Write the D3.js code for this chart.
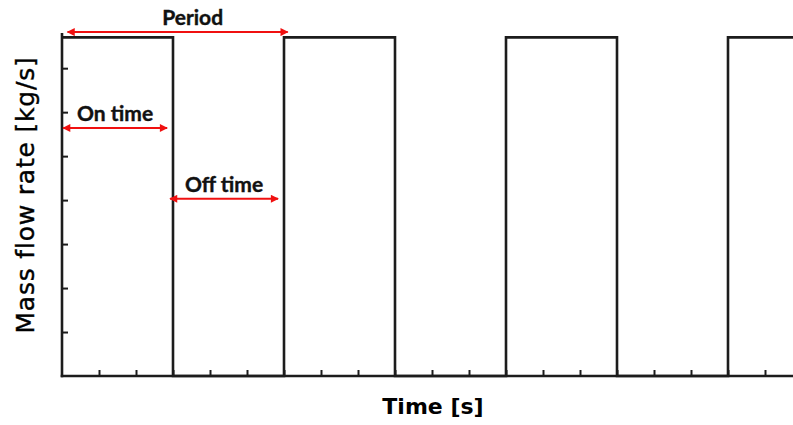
<!DOCTYPE html>
<html>
<head>
<meta charset="utf-8">
<script src="https://cdn.jsdelivr.net/npm/d3@7"></script>
<style>
  html, body { margin: 0; padding: 0; background: #fff; }
  svg { display: block; }
</style>
</head>
<body>
<svg id="chart" width="793" height="425"></svg>
<script>
// ---- data ----
const edgeTimes = [0, 3, 6, 9, 12, 15, 18, 21];      // s, switching instants
const flowLevels = [7.7, 0, 7.7, 0, 7.7, 0, 7.7];    // kg/s, level after each edge
const xTickValues = d3.range(1, 20);                  // minor ticks on time axis
const yTickValues = [1, 2, 3, 4, 5, 6, 7];
const xLabel = "Time [s]";
const yLabel = "Mass flow rate [kg/s]";
const annotationLabels = ["Period", "On time", "Off time"];
const annotationStart = [0.15, 0.03, 2.92];
const annotationEnd = [6.1, 2.84, 5.84];
const annotationLevel = [7.82, 5.64, 4.03];

// ---- layout ----
const svg = d3.select("#chart");
const x = d3.scaleLinear().domain([0, 20]).range([62, 802]);
const y = d3.scaleLinear().domain([0, 7.8]).range([376, 33]);
const ink = "#1c1c1c";
const red = "#f01010";

// step series
const stepPts = flowLevels.map((v, i) => [edgeTimes[i], v])
  .concat([[edgeTimes[edgeTimes.length - 1], flowLevels[flowLevels.length - 1]]]);
const line = d3.line().x(d => x(d[0])).y(d => y(d[1])).curve(d3.curveStepAfter);
svg.append("path")
  .datum(stepPts)
  .attr("d", line)
  .attr("fill", "none")
  .attr("stroke", ink)
  .attr("stroke-width", 2.6)
  .attr("stroke-linejoin", "miter");

// axes with inward ticks
const xAxis = d3.axisTop(x).tickValues(xTickValues).tickSize(6).tickFormat("");
const gx = svg.append("g").attr("transform", `translate(0,${y(0)})`).call(xAxis);
gx.select(".domain").remove();
gx.selectAll(".tick line").attr("stroke", ink).attr("stroke-width", 2);
svg.append("line").attr("x1", x(0) - 1.3).attr("x2", 793).attr("y1", y(0)).attr("y2", y(0))
  .attr("stroke", ink).attr("stroke-width", 2.6);

const yAxis = d3.axisRight(y).tickValues(yTickValues).tickSize(6).tickFormat("");
const gy = svg.append("g").attr("transform", `translate(${x(0)},0)`).call(yAxis);
gy.select(".domain").remove();
gy.selectAll(".tick line").attr("stroke", ink).attr("stroke-width", 2);
svg.append("line").attr("x1", x(0)).attr("x2", x(0)).attr("y1", y(7.8)).attr("y2", y(0) + 1.3)
  .attr("stroke", ink).attr("stroke-width", 2.6);

// axis titles
svg.append("text")
  .attr("x", 433).attr("y", 414)
  .attr("text-anchor", "middle")
  .attr("font-family", "DejaVu Sans, Verdana, sans-serif")
  .attr("font-weight", "bold")
  .attr("font-size", 22)
  .attr("fill", "#000")
  .text(xLabel);

svg.append("text")
  .attr("transform", "translate(34,195) rotate(-90)")
  .attr("text-anchor", "middle")
  .attr("font-family", "DejaVu Sans, Verdana, sans-serif")
  .attr("font-size", 25)
  .attr("letter-spacing", 0.8)
  .attr("stroke", "#000").attr("stroke-width", 0.4)
  .attr("fill", "#000")
  .text(yLabel);

// annotation arrows
const defs = svg.append("defs");
defs.append("marker")
  .attr("id", "ah").attr("viewBox", "0 0 10 10")
  .attr("refX", 9).attr("refY", 5)
  .attr("markerWidth", 9).attr("markerHeight", 8)
  .attr("markerUnits", "userSpaceOnUse")
  .attr("orient", "auto-start-reverse")
  .append("path").attr("d", "M0,0L10,5L0,10Z").attr("fill", red);

const ann = annotationLabels.map((label, i) => ({
  label, t0: annotationStart[i], t1: annotationEnd[i], v: annotationLevel[i]
}));
svg.selectAll(".arrow").data(ann).enter().append("line")
  .attr("class", "arrow")
  .attr("x1", d => x(d.t0)).attr("x2", d => x(d.t1))
  .attr("y1", d => y(d.v)).attr("y2", d => y(d.v))
  .attr("stroke", red).attr("stroke-width", 2)
  .attr("marker-start", "url(#ah)").attr("marker-end", "url(#ah)");

svg.selectAll(".alabel").data(ann).enter().append("text")
  .attr("class", "alabel")
  .attr("x", d => (x(d.t0) + x(d.t1)) / 2 + (d.label === "Period" ? 15 : 0))
  .attr("y", d => y(d.v) - 7)
  .attr("text-anchor", "middle")
  .attr("font-family", "Lato, Open Sans, sans-serif")
  .attr("font-weight", "bold")
  .attr("font-size", 21)
  .attr("stroke", "#111").attr("stroke-width", 0.4)
  .attr("fill", "#111")
  .text(d => d.label);
</script>
</body>
</html>
